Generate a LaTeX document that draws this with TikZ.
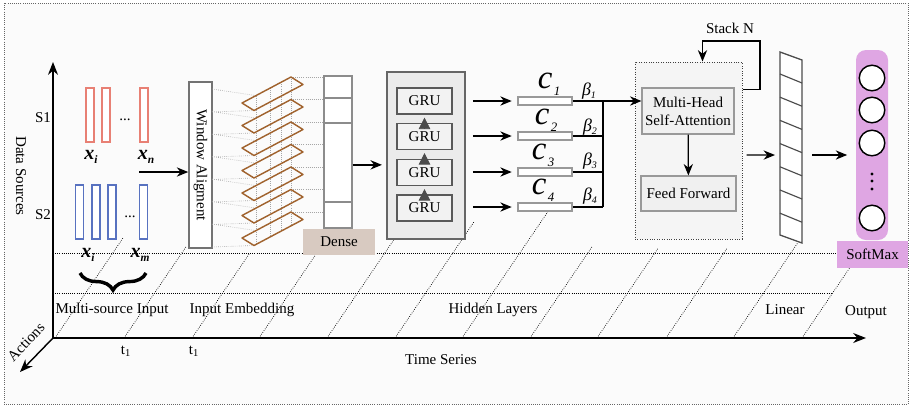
\documentclass[tikz,border=0pt]{standalone}
\usepackage{fontspec}
\setmainfont{Liberation Serif}
\usetikzlibrary{arrows.meta, positioning, calc, decorations.pathreplacing}
\definecolor{srcred}{RGB}{232,128,116}
\definecolor{srcblue}{RGB}{88,114,192}
\definecolor{embbrown}{RGB}{160,98,45}
\definecolor{densetan}{RGB}{216,202,193}
\definecolor{smplum}{RGB}{223,166,227}
\definecolor{paper}{RGB}{251,251,251}
\newcommand{\xlab}[2]{{\bfseries\itshape\fontsize{14}{14}\selectfont #1\raisebox{-3pt}{\fontsize{8}{8}\selectfont #2}}}
\newcommand{\clab}[1]{{\itshape\fontsize{23}{23}\selectfont c}\kern1pt{\itshape\fontsize{9}{9}\selectfont\raisebox{-5pt}{#1}}}
\newcommand{\blab}[1]{{\itshape\fontsize{12.5}{12.5}\selectfont β}{\itshape\fontsize{7}{7}\selectfont\raisebox{-2pt}{#1}}}

\begin{document}
\begin{tikzpicture}[x=0.7pt, y=-0.7pt,
  every node/.style={font=\fontsize{10.5}{12.5}\selectfont},
  arr/.style={-{Stealth[length=8pt,width=6.5pt]}, line width=0.9pt},
  axis/.style={-{Stealth[length=9pt,width=7pt]}, line width=1pt},
  griddot/.style={densely dotted, line width=0.5pt},
  fandot/.style={densely dotted, gray!70, line width=0.45pt},
  srcbar/.style={draw, fill=white, line width=0.9pt, minimum width=5.6pt, minimum height=37.8pt, inner sep=0pt},
  grucell/.style={draw=black!65, fill=black!5, line width=1pt, minimum width=38.5pt, minimum height=18.2pt, inner sep=0pt},
  ctxbar/.style={draw=black!40, fill=white, line width=0.8pt, minimum width=37.8pt, minimum height=5.6pt, inner sep=0pt},
  attbox/.style={draw=black!40, fill=black!6, line width=0.8pt, align=center, inner sep=1pt},
  neuron/.style={circle, draw, fill=white, line width=1pt, minimum size=17.9pt, inner sep=0pt},
  tag/.style={minimum width=50pt, minimum height=18.5pt, inner sep=0pt}
]
  \useasboundingbox (0,0) rectangle (916,406);
  \draw[densely dotted, black!60, fill=paper, line width=0.5pt] (4,3) rectangle (908,404);

  \draw[griddot] (53,253) -- (837,253);
  \draw[griddot] (53,293) -- (833,293);
  \foreach \xa/\ya in {55/238,124/247,192/253,259/253,327/240,395/222,462/212,530/247,597/248,666/248,733/243,802/268}
    \draw[griddot] (\xa,338) -- ({\xa+0.68*(338-\ya)},\ya);

  \coordinate (origin) at (53,338);
  \coordinate (ytip) at (53,62);
  \coordinate (xtip) at (866,338);
  \coordinate (ztip) at (20,372);
  \draw[axis] (origin) -- (ytip);
  \draw[axis] (origin) -- (xtip);
  \draw[axis] (origin) -- (ztip);

  \node (s1) at (43,118) {S1};
  \node (s2) at (43,215) {S2};
  \node[rotate=-90] (srcaxis) at (21,176) {Data Sources};
  \node[rotate=47, inner sep=0pt] (actaxis) at (26,342) {Actions};
  \node (tseries) at (441,360) {Time Series};
  \node (tick1) at (126,351) {t\textsubscript{1}};
  \node (tick2) at (194,351) {t\textsubscript{1}};
  \node (stg1) at (112,310) {Multi-source Input};
  \node (stg2) at (242,310) {Input Embedding};
  \node (stg3) at (493,310) {Hidden Layers};
  \node (stg4) at (785,310) {Linear};
  \node (stg5) at (866,312) {Output};

  \foreach \i/\xx in {1/90,2/106,3/144}
    \node[srcbar, draw=srcred] (sa\i) at (\xx,115) {};
  \foreach \i/\xx in {1/79.5,2/96,3/112,4/143.5}
    \node[srcbar, draw=srcblue] (sb\i) at (\xx,212) {};
  \node (sadots) at (125,120) {...};
  \node (sbdots) at (130,217) {...};
  \node (xa1) at (91,157) {\xlab{x}{i}};
  \node (xan) at (146,157) {\xlab{x}{n}};
  \node (xb1) at (88,255) {\xlab{x}{i}};
  \node (xbm) at (140,255) {\xlab{x}{m}};
  \draw[decorate, decoration={brace, amplitude=12pt}, line width=2.4pt] (146,273) -- (80,273);

  \node[draw=black!55, fill=white, line width=1.1pt, minimum width=16.1pt, minimum height=116.2pt, inner sep=0pt] (wa) at (200.5,165) {};
  \node[rotate=-90] (watxt) at (wa) {Window Aligment};
  \coordinate (srcout) at (139,172);
  \draw[arr] (srcout) -- (srcout -| wa.west);

  \node[draw=black!45, fill=white, line width=0.9pt, minimum width=19.6pt, minimum height=106.4pt, inner sep=0pt] (dense) at (338,152) {};
  \foreach \yy in {98,123,202}
    \draw[black!45, line width=0.9pt] (dense.west |- 0,\yy) -- (dense.east |- 0,\yy);

  \foreach \k in {0,...,6} {
    \pgfmathsetmacro{\yk}{103+22.5*\k}
    \draw[fandot] (212,\yk-14) -- (256,\yk-7.4);
    \draw[fandot] (212,\yk+9) -- (254,\yk+7.5);
    \draw[fandot] (291,\yk-26) -- (dense.west |- 0,{\yk-26});
  }
  \draw[fandot] (256,95.6) -- (256,244.4);
  \draw[fandot] (270,88.1) -- (270,237);
  \draw[fandot] (281,82.3) -- (281,231.2);
  \draw[fandot] (291,77) -- (291,225.9);
  \foreach \k in {0,...,6}
    \draw[embbrown, line width=1pt, line join=round] (242,{103+22.5*\k}) -- ++(49,-26) -- ++(12,7.5) -- ++(-49,26) -- cycle;
  \node[tag, fill=densetan] (densetag) at (339,242) {Dense};

  \node[draw=black!60, fill=black!8, line width=1.1pt, minimum width=54.6pt, minimum height=116.9pt, inner sep=0pt] (grustack) at (426,155.5) {};
  \draw[arr, shorten >=3pt] ([yshift=-9pt]dense.east) -- ([yshift=-9pt]dense.east -| grustack.west);
  \foreach \i/\yy in {1/101,2/136.5,3/172.5,4/208}
    \node[grucell] (gru\i) at (424.5,\yy) {GRU};
  \foreach \a/\b in {gru2/gru1,gru3/gru2,gru4/gru3}
    \draw[-{Triangle[length=8pt,width=8pt]}, black!70] (\a.north) -- ([yshift=-2pt]\b.south);

  \foreach \i/\yy in {1/101,2/136,3/172,4/207}
    \node[ctxbar] (ctx\i) at (545,\yy) {};
  \foreach \i in {1,...,4}
    \draw[arr, shorten <=5pt, shorten >=4pt] (grustack.east |- ctx\i) -- (ctx\i.west);
  \node (c1) at (549,84) {\clab{1}};
  \node (c2) at (546,120) {\clab{2}};
  \node (c3) at (543,155) {\clab{3}};
  \node (c4) at (543,190) {\clab{4}};
  \node (b1) at (589,91) {\blab{1}};
  \node (b2) at (590,127) {\blab{2}};
  \node (b3) at (590,161) {\blab{3}};
  \node (b4) at (590,196) {\blab{4}};

  \node[draw=black!75, densely dotted, fill=black!4, line width=0.7pt, minimum width=74.9pt, minimum height=123.9pt, inner sep=0pt] (tfbox) at (688.5,150.5) {};
  \node[attbox, minimum width=64.4pt, minimum height=32.2pt] (mha) at (688,111) {Multi-Head\\Self-Attention};
  \node[attbox, minimum width=66.5pt, minimum height=24.5pt] (ff) at (688.5,193.5) {Feed Forward};
  \draw[arr] (mha) -- (ff);

  \coordinate (join) at (603,101);
  \foreach \i in {1,...,4}
    \draw[line width=0.9pt] (ctx\i.east) -- (ctx\i.east -| join);
  \draw[line width=0.9pt] (join) -- (join |- ctx4);
  \draw[arr] (join) -- (join -| mha.west);

  \coordinate (loop) at (760,41);
  \draw[arr] ([yshift=-19.6pt]tfbox.north east) -| (loop) -| ([xshift=-28pt]tfbox.north east);
  \node (stacktxt) at (730,28) {Stack N};

  \draw[black!70, line width=0.9pt, fill=white] (780,52) -- (802,60) -- (802,243) -- (780,235) -- cycle;
  \foreach \k in {0,...,6}
    \draw[black!70, line width=0.8pt] (780,{74+23.2*\k}) -- (802,{83+23.2*\k});
  \coordinate (linW) at (780,155);
  \coordinate (linE) at (802,155);
  \draw[arr, shorten <=2.8pt, shorten >=3.5pt] ([yshift=-3.2pt]tfbox.east) -- (linW);

  \node[fill=smplum, rounded corners=7pt, minimum width=22.4pt, minimum height=133pt, inner sep=0pt] (smcol) at (872,145) {};
  \foreach \i/\yy in {1/78,2/110,3/143,4/218}
    \node[neuron] (nrn\i) at (872,\yy) {};
  \foreach \yy in {174,181,189}
    \fill (872,\yy) circle (1.1pt);
  \node[tag, fill=smplum] (smtag) at (872.5,254.5) {SoftMax};
  \draw[arr, shorten <=7pt, shorten >=6pt] (linE) -- (linE -| smcol.west);
\end{tikzpicture}
\end{document}
